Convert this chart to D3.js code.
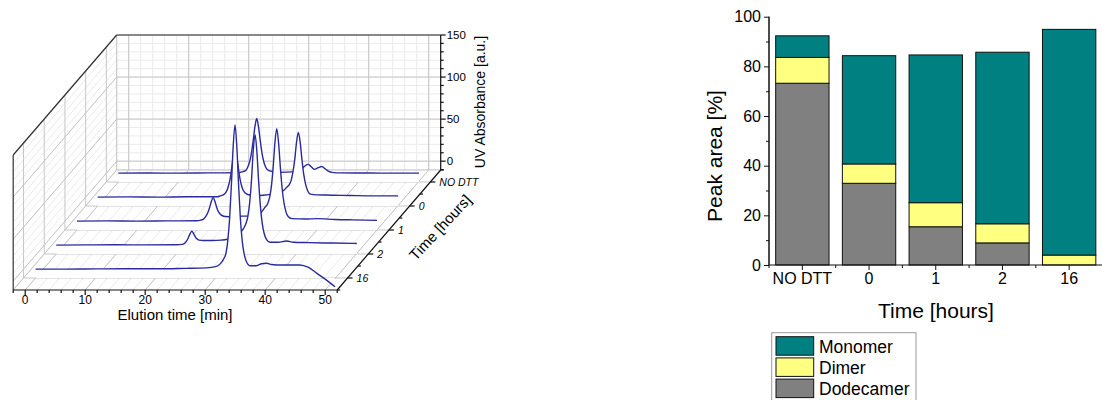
<!DOCTYPE html>
<html>
<head>
<meta charset="utf-8">
<script src="https://cdn.jsdelivr.net/npm/d3@7"></script>
<style>
	body { margin: 0; background: #fff; }
	svg { display: block; font-family: 'Liberation Sans', Arial, sans-serif; }
</style>
</head>
<body>
<svg id="chart" width="1102" height="400"></svg>
<script>
// ---------- data ----------
const hours = ['NO DTT', '0', '1', '2', '16'];

// SEC chromatograms, [elution time (min), UV absorbance (a.u.)]
const traceNoDtt = [
	[0, 0], [5, 0.2], [10, 0], [15, 0.3], [20, 0.5], [20.6, 1.5], [21.2, 3], [21.56, 7],
	[21.86, 13], [22.16, 23], [22.46, 38], [22.76, 55], [23.06, 65], [23.36, 55], [23.66, 38],
	[23.96, 23], [24.26, 13], [24.56, 7], [24.96, 3.5], [25.6, 2], [27, 1], [29, 1.5], [30, 3],
	[30.6, 5.5], [31.1, 8.5], [31.6, 10.5], [32.1, 8], [32.7, 4.5], [33.3, 6.5], [33.9, 8],
	[34.5, 5], [35, 2.5], [35.6, 1], [37, 0.3], [42, 0.2], [46, 0], [50.1, 0]
];
const trace0 = [
	[0, 0], [5, 0.3], [10, 0], [15, 0.5], [20, 0.5], [20.4, 1.5], [21, 3], [21.4, 6], [21.7, 11],
	[22, 19], [22.3, 32], [22.6, 47], [22.9, 55], [23.2, 47], [23.5, 32], [23.8, 19], [24.1, 11],
	[24.4, 6.5], [24.8, 4], [25.5, 2.5], [27, 2], [28.5, 3], [30, 5], [31, 8], [31.55, 12],
	[31.95, 15], [32.25, 20], [32.55, 30], [32.85, 44.7], [33.15, 65.5], [33.45, 77],
	[33.75, 65.5], [34.05, 44.7], [34.35, 27], [34.65, 15.4], [34.95, 8.5], [35.35, 4],
	[35.95, 3], [38, 2.5], [42, 2], [46, 1.5], [50.1, 1.5]
];
const trace1 = [
	[0, 0], [5, 0.3], [10, 0], [15, 0.3], [20, 0.5], [20.5, 1], [21.1, 2.5], [21.5, 6], [21.8, 10],
	[22.1, 16], [22.4, 23.5], [22.7, 27.8], [23, 23.5], [23.3, 16], [23.6, 11], [24, 7.5],
	[24.7, 5.5], [26, 5], [27.5, 6], [28.5, 6], [29.5, 7], [30.5, 9], [31.4, 17], [31.8, 21],
	[32.1, 28], [32.4, 41], [32.7, 64], [33, 93.5], [33.3, 110], [33.6, 93.5], [33.9, 64],
	[34.2, 38.5], [34.5, 22], [34.8, 12], [35.2, 5.5], [35.8, 3], [38, 2.5], [40, 3], [43, 2],
	[46, 1.5], [50, 1]
];
const trace2 = [
	[0, 0], [5, 0.3], [10, 0.5], [15, 0.3], [20, 0.5], [21, 1], [21.5, 3], [21.9, 7], [22.3, 13.5],
	[22.6, 16.6], [22.9, 13.5], [23.3, 8.5], [23.8, 6], [24.5, 5.5], [26, 5.5], [27.5, 6],
	[28.5, 7], [29.5, 10], [30.5, 14], [31.23, 20], [31.63, 26], [31.93, 34], [32.23, 50],
	[32.53, 76], [32.83, 112], [33.13, 131.6], [33.43, 112], [33.73, 76], [34.03, 46],
	[34.33, 26], [34.63, 14.5], [35.03, 7], [35.63, 3.5], [37, 3.5], [38.4, 5], [39.5, 3.5],
	[42, 3], [46, 2.5], [50.1, 2]
];
const trace16 = [
	[0, 0], [5, 0], [10, 0.3], [15, 0.5], [20, 0.5], [25, 1], [28.5, 1.5], [30, 3], [30.74, 6],
	[31.34, 12], [31.74, 19], [32.04, 34], [32.34, 60], [32.64, 100], [32.94, 146],
	[33.24, 171.6], [33.54, 146], [33.84, 100], [34.14, 60], [34.44, 34], [34.74, 19],
	[35.14, 9], [35.74, 4], [36.8, 4], [37.7, 6.5], [38.5, 7], [39.3, 5.5], [40.2, 5], [42, 5],
	[44, 5], [45.5, 2], [46.9, -5], [48.5, -13], [49.9, -21]
];
const traces = [traceNoDtt, trace0, trace1, trace2, trace16];

// peak areas (%)
const dodecamer = [73.2, 32.9, 15.4, 8.9, 0];
const dimer = [10.4, 7.8, 9.7, 7.7, 4.0];
const monomer = [8.7, 43.6, 59.5, 69.1, 90.9];
const species = ['Dodecamer', 'Dimer', 'Monomer'];
const speciesColors = { Dodecamer: '#808080', Dimer: '#ffff80', Monomer: '#008080' };

const svg = d3.select('#chart');
const FONT_AXIS = '#000';

// ---------- 3D waterfall ----------
const origin = { x: 116.7, y: 170 }; // back-left corner of the floor
const depthVec = { x: -103.5, y: 120 }; // back -> front
const xScale = d3.scaleLinear().domain([-2, 52]).range([0, 324]);
const zScale = d3.scaleLinear().domain([-10.5, 150]).range([0, 135]);
const fScale = d3.scalePoint().domain(hours).range([0, 1]).padding(0.5);
const [T0, T1] = xScale.domain();
const [Z0, Z1] = zScale.domain();

const proj = (t, f, z) => [
	origin.x + xScale(t) + depthVec.x * f,
	origin.y + depthVec.y * f - zScale(z)
];

const wf = svg.append('g');
const gridMinor = wf.append('g').attr('stroke', '#ebebeb').attr('stroke-width', 1);
const gridMajor = wf.append('g').attr('stroke', '#c6c6c6').attr('stroke-width', 1);

const seg = (g, a, b) =>
	g.append('line').attr('x1', a[0]).attr('y1', a[1]).attr('x2', b[0]).attr('y2', b[1]);

const tMinor = d3.range(-2, 52.01, 2);
const tMajor = d3.range(0, 51, 10);
const zMinor = d3.range(-10, 150.01, 10);
const zMajor = [0, 50, 100, 150];

// back wall
tMinor.forEach((t) => seg(gridMinor, proj(t, 0, Z0), proj(t, 0, Z1)));
zMinor.forEach((z) => seg(gridMinor, proj(T0, 0, z), proj(T1, 0, z)));
tMajor.forEach((t) => seg(gridMajor, proj(t, 0, Z0), proj(t, 0, Z1)));
zMajor.forEach((z) => seg(gridMajor, proj(T0, 0, z), proj(T1, 0, z)));

// left wall
zMinor.forEach((z) => seg(gridMinor, proj(T0, 0, z), proj(T0, 1, z)));
zMajor.forEach((z) => seg(gridMajor, proj(T0, 0, z), proj(T0, 1, z)));
hours.forEach((h) => seg(gridMajor, proj(T0, fScale(h), Z0), proj(T0, fScale(h), Z1)));

// floor
tMinor.forEach((t) => seg(gridMinor, proj(t, 0, Z0), proj(t, 1, Z0)));
tMajor.forEach((t) => seg(gridMajor, proj(t, 0, Z0), proj(t, 1, Z0)));
hours.forEach((h) => seg(gridMajor, proj(T0, fScale(h), Z0), proj(T1, fScale(h), Z0)));

// box edges (light)
seg(gridMajor, proj(T0, 0, Z0), proj(T0, 0, Z1));
seg(gridMajor, proj(T0, 0, Z0), proj(T1, 0, Z0));
seg(gridMajor, proj(T0, 0, Z0), proj(T0, 1, Z0));

// traces, back to front, white fill hides what is behind
const line = d3.line().curve(d3.curveMonotoneX);
traces.forEach((trace, i) => {
	const f = fScale(hours[i]);
	const pts = trace.map(([t, z]) => proj(t, f, z));
	const first = trace[0][0];
	const last = trace[trace.length - 1][0];
	const foot = [proj(last, f, Z0), proj(first, f, Z0)];
	wf.append('path')
		.attr('d', line(pts) + 'L' + foot.map((p) => p.join(',')).join('L') + 'Z')
		.attr('fill', '#fff')
		.attr('stroke', 'none');
	wf.append('path')
		.attr('d', line(pts))
		.attr('fill', 'none')
		.attr('stroke', '#2a2a9e')
		.attr('stroke-width', 1.4);
});

// dark frame
const frame = wf.append('g').attr('stroke', '#333').attr('stroke-width', 1.2);
seg(frame, proj(T0, 1, Z0), proj(T0, 1, Z1));
seg(frame, proj(T0, 1, Z1), proj(T0, 0, Z1));
seg(frame, proj(T0, 0, Z1), proj(T1, 0, Z1));

// elution time axis
const axes = wf.append('g').attr('stroke', '#111').attr('stroke-width', 1.2);
seg(axes, proj(T0, 1, Z0), proj(T1, 1, Z0));
tMinor.forEach((t) => {
	const p = proj(t, 1, Z0);
	seg(axes, p, [p[0], p[1] + (t % 10 === 0 ? 5 : 3)]);
});
wf.append('g')
	.selectAll('text')
	.data(tMajor)
	.join('text')
	.attr('x', (t) => proj(t, 1, Z0)[0])
	.attr('y', proj(0, 1, Z0)[1] + 14)
	.attr('text-anchor', 'middle')
	.attr('font-size', 12)
	.attr('fill', FONT_AXIS)
	.text((t) => t);
wf.append('text')
	.attr('x', 175)
	.attr('y', 320)
	.attr('text-anchor', 'middle')
	.attr('font-size', 15)
	.text('Elution time [min]');

// absorbance axis (back right)
seg(axes, proj(T1, 0, Z0), proj(T1, 0, Z1));
zMinor.forEach((z) => {
	const p = proj(T1, 0, z);
	seg(axes, p, [p[0] + (z % 50 === 0 ? 5 : 3), p[1]]);
});
wf.append('g')
	.selectAll('text')
	.data(zMajor)
	.join('text')
	.attr('x', proj(T1, 0, 0)[0] + 6)
	.attr('y', (z) => proj(T1, 0, z)[1] + 4)
	.attr('font-size', 11.5)
	.attr('fill', FONT_AXIS)
	.text((z) => z);
wf.append('text')
	.attr('transform', 'translate(485,102) rotate(-90)')
	.attr('text-anchor', 'middle')
	.attr('font-size', 14)
	.text('UV Absorbance [a.u.]');

// time (hours) axis along the floor
seg(axes, proj(T1, 0, Z0), proj(T1, 1, Z0));
d3.range(0, 1.01, 0.2).forEach((f) => {
	const p = proj(T1, f, Z0);
	seg(axes, p, [p[0] + 3, p[1]]);
});
hours.forEach((h) => {
	const p = proj(T1, fScale(h), Z0);
	seg(axes, p, [p[0] + 5, p[1]]);
});
wf.append('g')
	.selectAll('text')
	.data(hours)
	.join('text')
	.attr('x', (h) => proj(T1, fScale(h), Z0)[0] + 9)
	.attr('y', (h) => proj(T1, fScale(h), Z0)[1] + 4)
	.attr('font-size', 10.5)
	.attr('font-style', 'italic')
	.attr('fill', FONT_AXIS)
	.text((h) => h);
wf.append('text')
	.attr('transform', 'translate(444,231) rotate(-47)')
	.attr('text-anchor', 'middle')
	.attr('font-size', 15)
	.text('Time [hours]');

// ---------- stacked bars ----------
const rows = hours.map((h, i) => ({
	hour: h,
	Dodecamer: dodecamer[i],
	Dimer: dimer[i],
	Monomer: monomer[i]
}));
const stacked = d3.stack().keys(species)(rows);

const yBar = d3.scaleLinear().domain([0, 100]).range([265, 16.7]);
const xBar = d3
	.scaleBand()
	.domain(hours)
	.range([769, 1102.5])
	.paddingInner(0.2)
	.paddingOuter(0.1);

const bars = svg.append('g');
bars.selectAll('g')
	.data(stacked)
	.join('g')
	.attr('fill', (s) => speciesColors[s.key])
	.selectAll('rect')
	.data((s) => s.filter((d) => d[1] - d[0] > 0))
	.join('rect')
	.attr('x', (d) => xBar(d.data.hour))
	.attr('y', (d) => yBar(d[1]))
	.attr('width', xBar.bandwidth())
	.attr('height', (d) => yBar(d[0]) - yBar(d[1]))
	.attr('stroke', '#111')
	.attr('stroke-width', 1);

// y axis
const yAxis = svg.append('g').attr('transform', 'translate(769,0)');
yAxis.call(d3.axisLeft(yBar).tickValues(d3.range(10, 100, 20)).tickSize(3).tickFormat(''));
yAxis.append('g').call(
	d3.axisLeft(yBar).tickValues(d3.range(0, 101, 20)).tickSize(5).tickSizeOuter(0)
);
yAxis.selectAll('path.domain').attr('d', `M0,${yBar(0)}V${yBar(100)}`);
yAxis.selectAll('text').attr('font-size', 16).attr('font-family', null).attr('fill', '#000');
yAxis.selectAll('line,path').attr('stroke', '#111');

// x axis
const xAxis = svg.append('g').attr('transform', 'translate(0,265)');
xAxis.call(d3.axisBottom(xBar).tickSize(5).tickSizeOuter(0));
xAxis.selectAll('path.domain').attr('d', 'M769,0H1102');
xAxis.selectAll('text').attr('font-size', 16).attr('font-family', null).attr('fill', '#000');
xAxis.selectAll('line,path').attr('stroke', '#111');
xAxis.append('g')
	.selectAll('line')
	.data(d3.range(0, hours.length + 1))
	.join('line')
	.attr('x1', (k) => 769 + k * xBar.step())
	.attr('x2', (k) => 769 + k * xBar.step())
	.attr('y1', 0)
	.attr('y2', 3)
	.attr('stroke', '#111');

svg.append('text')
	.attr('x', 936)
	.attr('y', 318)
	.attr('text-anchor', 'middle')
	.attr('font-size', 21)
	.text('Time [hours]');
svg.append('text')
	.attr('transform', 'translate(722,156) rotate(-90)')
	.attr('text-anchor', 'middle')
	.attr('font-size', 21)
	.text('Peak area [%]');

// legend
const legend = svg.append('g');
legend.append('rect')
	.attr('x', 771.7).attr('y', 332.7)
	.attr('width', 144.3).attr('height', 72)
	.attr('fill', '#fff')
	.attr('stroke', '#9a9a9a');
species.slice().reverse().forEach((s, i) => {
	legend.append('rect')
		.attr('x', 776).attr('y', 336.7 + i * 21.2)
		.attr('width', 37.7).attr('height', 18.5)
		.attr('fill', speciesColors[s])
		.attr('stroke', '#111');
	legend.append('text')
		.attr('x', 819).attr('y', 352.5 + i * 21.2)
		.attr('font-size', 17.5)
		.text(s);
});
</script>
</body>
</html>
